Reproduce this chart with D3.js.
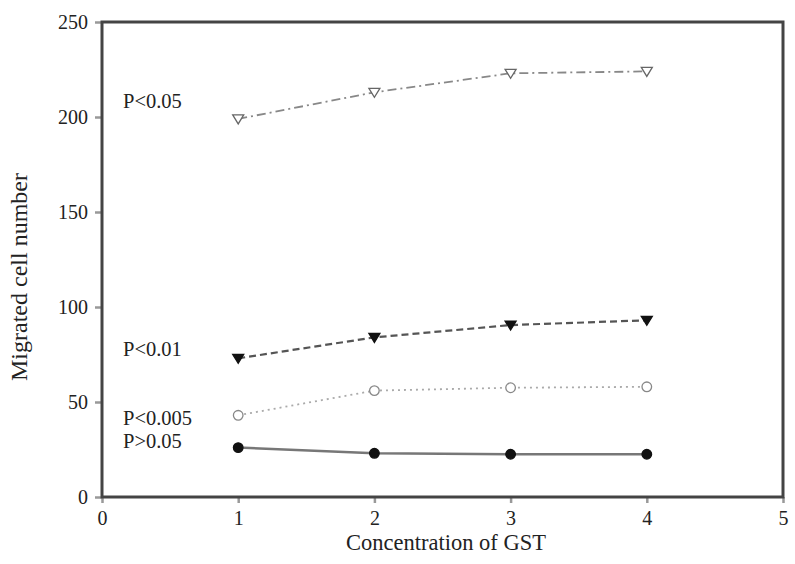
<!DOCTYPE html>
<html><head><meta charset="utf-8">
<script src="https://cdn.jsdelivr.net/npm/d3@7"></script>
<style>body{margin:0;background:#fff}svg{display:block}text{font-family:"Liberation Serif","Times New Roman",serif;fill:#222}</style>
</head><body><svg id="c" width="795" height="564"></svg>
<script>
const concentrations = [1, 2, 3, 4];
const xTicks = [0, 1, 2, 3, 4, 5];
const yTicks = [0, 50, 100, 150, 200, 250];
const seriesNames = ["P<0.05", "P<0.01", "P<0.005", "P>0.05"];
const pLt005 = [199, 213, 223, 224];
const pLt001 = [73, 84, 90.5, 93];
const pLt0005 = [43, 56, 57.5, 58];
const pGt005 = [26, 23, 22.5, 22.5];

const svg = d3.select("#c");
const x = d3.scaleLinear().domain([0,5]).range([102, 783]);
const y = d3.scaleLinear().domain([0,250]).range([497, 22]);

// axes
const ya = svg.append("g").attr("transform",`translate(${x(0)},0)`)
  .call(d3.axisLeft(y).tickValues(yTicks).tickSize(7).tickPadding(7));
const xa = svg.append("g").attr("transform",`translate(0,${y(0)})`)
  .call(d3.axisBottom(x).tickValues(xTicks).tickFormat(d3.format("d")).tickSize(6).tickPadding(8));
[ya, xa].forEach(g=>{
  g.select(".domain").remove();
  g.selectAll(".tick line").attr("stroke","#999").attr("stroke-width",2.5);
  g.selectAll(".tick text").attr("font-size",20).attr("font-family","Liberation Serif, serif").attr("fill","#222");
});
// frame
svg.append("rect").attr("x",x(0)).attr("y",y(250)).attr("width",x(5)-x(0)).attr("height",y(0)-y(250))
  .attr("fill","none").attr("stroke","#444").attr("stroke-width",3);

svg.append("text").attr("x",446).attr("y",550).attr("text-anchor","middle").attr("font-size",22.5).text("Concentration of GST");
svg.append("text").attr("transform",`translate(27,277) rotate(-90)`).attr("text-anchor","middle").attr("font-size",24).text("Migrated cell number");

const series = [
  {name:seriesNames[0], vals:pLt005, stroke:"#888", dash:"9,4,2,4", w:1.8, sym:"tri", fill:"#fff", mk:"#666", ly:108},
  {name:seriesNames[1], vals:pLt001, stroke:"#555", dash:"7,4", w:2.2, sym:"tri", fill:"#111", mk:"#111", ly:356},
  {name:seriesNames[2], vals:pLt0005, stroke:"#aaa", dash:"2,4", w:1.8, sym:"circ", fill:"#fff", mk:"#888", ly:425},
  {name:seriesNames[3], vals:pGt005, stroke:"#777", dash:null, w:2.5, sym:"circ", fill:"#111", mk:"#111", ly:448}
];
const line = d3.line().x((d,i)=>x(concentrations[i])).y(d=>y(d));
series.forEach(s=>{
  const p = svg.append("path").datum(s.vals).attr("d",line).attr("fill","none")
    .attr("stroke",s.stroke).attr("stroke-width",s.w);
  if(s.dash) p.attr("stroke-dasharray",s.dash);
  const g = svg.append("g");
  s.vals.forEach((v,i)=>{
    const cx = x(concentrations[i]), cy = y(v);
    if(s.sym==="tri"){
      g.append("path").attr("d",`M${cx-5.5},${cy-4}L${cx+5.5},${cy-4}L${cx},${cy+5}Z`)
        .attr("fill",s.fill).attr("stroke",s.mk).attr("stroke-width",1.3);
    } else {
      g.append("circle").attr("cx",cx).attr("cy",cy).attr("r",4.8)
        .attr("fill",s.fill).attr("stroke",s.mk).attr("stroke-width",1.3);
    }
  });
  svg.append("text").attr("x",123).attr("y",s.ly).attr("font-size",20.5).text(s.name);
});
</script></body></html>
